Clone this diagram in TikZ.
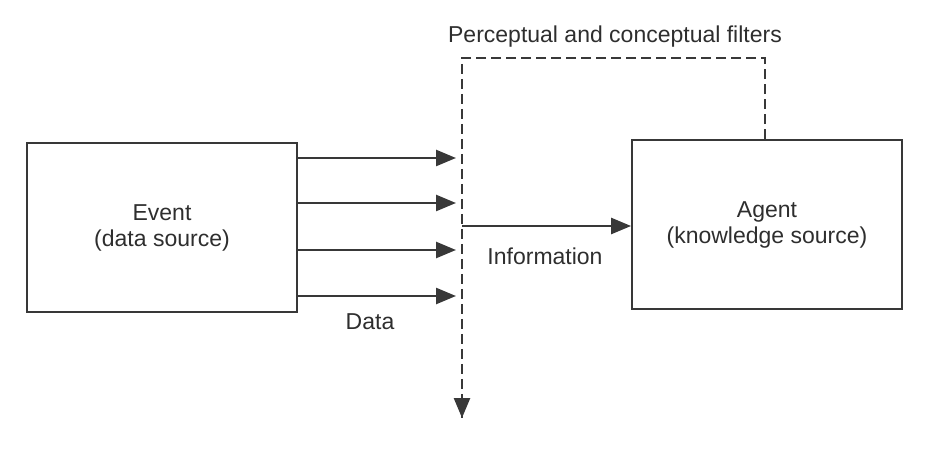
\documentclass[tikz,border=0pt]{standalone}
\usepackage{fontspec}
\setmainfont{Liberation Sans}
\usetikzlibrary{arrows.meta}
\definecolor{ink}{HTML}{383838}
\definecolor{txt}{HTML}{2E2E2E}
\tikzset{
  box/.style={draw=ink, line width=1.8pt, minimum width=270pt, minimum height=169pt, inner sep=0pt, text=txt, align=center, font=\fontsize{23}{26}\selectfont},
  lbl/.style={text=txt, inner sep=0pt, font=\fontsize{23}{26}\selectfont},
  tip/.style={-{Triangle[length=20pt,width=16pt]}},
  arr/.style={draw=ink, line width=2.5pt, tip},
  filt/.style={draw=ink, line width=2.5pt, dash pattern=on 10pt off 5pt}
}
\begin{document}
\begin{tikzpicture}[x=1pt,y=-1pt]
\useasboundingbox (0,0) rectangle (945,449);
\node[box] (event) at (162,227.5) {Event\\(data source)};
\node[box] (agent) at (767,224.5) {Agent\\(knowledge source)};
% data arrows
\coordinate (d1s) at (297,158); \coordinate (d1e) at (456,158);
\coordinate (d2s) at (297,203); \coordinate (d2e) at (456,203);
\coordinate (d3s) at (297,250); \coordinate (d3e) at (456,250);
\coordinate (d4s) at (297,296); \coordinate (d4e) at (456,296);
\draw[arr] (d1s) -- (d1e);
\draw[arr] (d2s) -- (d2e);
\draw[arr] (d3s) -- (d3e);
\draw[arr] (d4s) -- (d4e);
% filter
\coordinate (ftl) at (462,58);
\coordinate (ftr) at (765,58);
\coordinate (fbot) at (462,418);
\coordinate (fpre) at (462,396);
\coordinate (fin) at (462,226);
\draw[filt] (agent.north -| ftr) -- (ftr) -- (ftl) -- (fbot);
\draw[arr] (fpre) -- (fbot);
\draw[arr] (fin) -- (agent.west |- fin);
% labels
\node[lbl] (ftext) at (615,37) {Perceptual and conceptual filters};
\node[lbl] (info) at (545,256) {Information};
\node[lbl] (data) at (370,322) {Data};
\end{tikzpicture}
\end{document}
